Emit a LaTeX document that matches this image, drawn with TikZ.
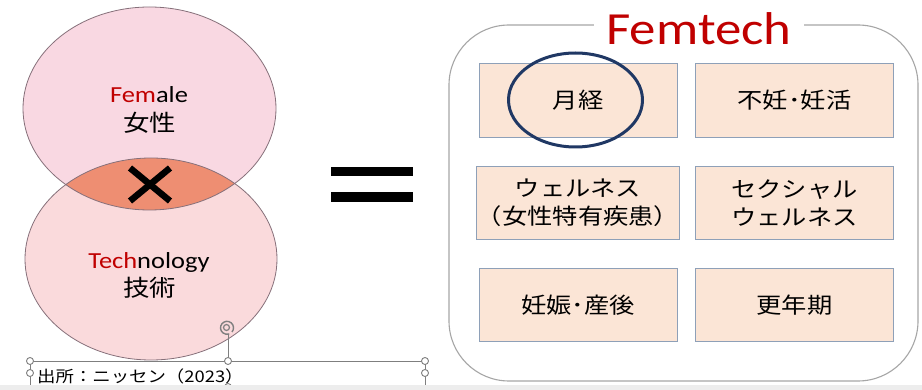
\documentclass[tikz,border=0pt]{standalone}
\usepackage{fontspec}
\newfontfamily\jp[FakeStretch=1.15]{Noto Sans CJK JP}
\newfontfamily\lat[FakeStretch=1.15]{Carlito}
\definecolor{femred}{HTML}{C00000}
\definecolor{pinkA}{HTML}{F9D8E2}
\definecolor{pinkB}{HTML}{FADADC}
\definecolor{lensC}{HTML}{EE8E72}
\definecolor{circLine}{HTML}{86707A}
\definecolor{boxFill}{HTML}{FBE5D6}
\definecolor{boxLine}{HTML}{8EA0B8}
\definecolor{frameLine}{HTML}{A6A6A6}
\definecolor{navy}{HTML}{203864}
\definecolor{handleC}{HTML}{7F7F7F}
\definecolor{stripC}{HTML}{EDEDED}
\begin{document}
\begin{tikzpicture}[x=1pt,y=-1pt,
  circ/.style={draw=circLine, line width=0.8pt},
  latlbl/.style={inner sep=0pt, anchor=base, font=\lat\fontsize{23}{28}\selectfont},
  jplbl/.style={inner sep=0pt, font=\jp\fontsize{23}{28}\selectfont},
  catbox/.style={draw=boxLine, fill=boxFill, line width=1pt, minimum width=198pt, minimum height=73.5pt, inner sep=0pt, align=center, font=\jp\fontsize{22}{28}\selectfont},
  hdl/.style={draw=handleC, fill=white, line width=0.9pt},
  hline/.style={draw=handleC, line width=0.9pt}
]
\useasboundingbox (0,0) rectangle (922,390);
\fill[white] (0,0) rectangle (922,390);

% Venn ellipses
\fill[pinkA] (149.5,108.5) ellipse [x radius=126.5pt, y radius=101.5pt];
\fill[pinkB] (151,259) ellipse [x radius=126pt, y radius=101pt];
\begin{scope}
  \clip (149.5,108.5) ellipse [x radius=126.5pt, y radius=101.5pt];
  \fill[lensC] (151,259) ellipse [x radius=126pt, y radius=101pt];
\end{scope}
\draw[circ] (149.5,108.5) ellipse [x radius=126.5pt, y radius=101.5pt];
\draw[circ] (151,259) ellipse [x radius=126pt, y radius=101pt];

% labels
\node[latlbl] (female) at (149,102.5) {\textcolor{femred}{Fem}ale};
\node[jplbl] (josei) at (149.5,123) {女性};
\node[latlbl] (tech) at (149,269) {\textcolor{femred}{Tech}nology};
\node[jplbl] (gijutsu) at (149.5,288) {技術};

% cross
\draw[line width=6.5pt] (130,168) -- (170,201);
\draw[line width=6.5pt] (170,168) -- (130,201);

% equals
\fill (331,167) rectangle (413,176.5);
\fill (331,192.5) rectangle (413,202);

% frame
\draw[frameLine, line width=1.1pt, rounded corners=60pt] (449,25) rectangle (918,381);
\node[fill=white, inner xsep=12pt, inner ysep=2pt, font=\lat\fontsize{46}{50}\selectfont, text=femred, anchor=base] (title) at (699,45) {Femtech};

% category boxes
\node[catbox] (b1) at (578,100.5) {月経};
\node[catbox] (b2) at (794.5,100.5) {不妊･妊活};
\node[catbox] (b3) at (578,203) {ウェルネス\\（女性特有疾患）};
\node[catbox] (b4) at (794.5,203) {セクシャル\\ウェルネス};
\node[catbox] (b5) at (578,305) {妊娠･産後};
\node[catbox] (b6) at (794.5,305) {更年期};

% highlight ellipse
\draw[navy, line width=3pt] (575.5,100) ellipse [x radius=67pt, y radius=47pt];

% source text box with selection handles
\node[inner sep=0pt, anchor=base west, font=\jp\fontsize{16}{18}\selectfont] (src) at (37,383) {出所：ニッセン（2023）};
\draw[hline] (30,361) -- (425,361);
\draw[hline] (30,361) -- (30,390);
\draw[hline] (425,361) -- (425,390);
\draw[hline] (228,334) -- (228,361);
\draw[hdl] (30,361) circle (3.5pt);
\draw[hdl] (228,361) circle (3.5pt);
\draw[hdl] (425,361) circle (3.5pt);
\draw[hdl] (30,373) circle (3.5pt);
\draw[hdl] (425,373) circle (3.5pt);
\draw[hdl] (228,387) circle (3.5pt);
\draw[handleC, line width=1.4pt] (232,332) arc[start angle=-40, end angle=290, radius=6.5pt];
\draw[handleC, line width=1.2pt] (226.5,327.5) circle (3pt);

% bottom strip
\fill[stripC] (0,385) rectangle (922,390);
\end{tikzpicture}
\end{document}
